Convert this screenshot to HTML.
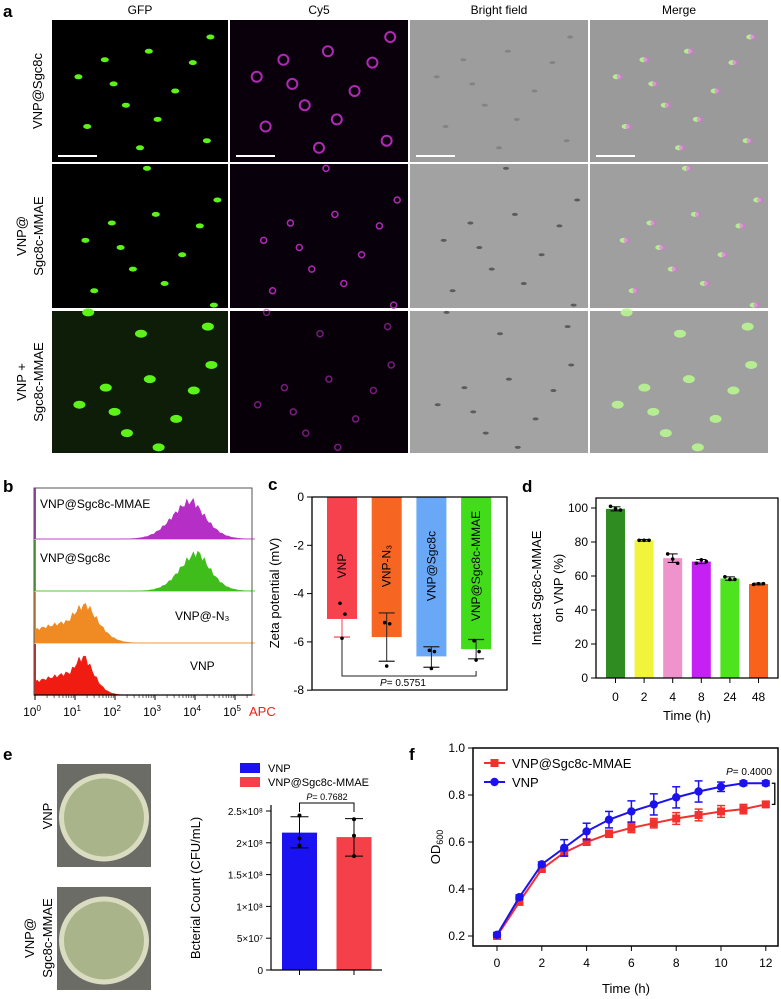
<!DOCTYPE html>
<html><head><meta charset="utf-8"><style>
html,body{margin:0;padding:0;background:#fff;}
svg{display:block;font-family:"Liberation Sans",Arial,sans-serif;}
</style></head><body>
<svg id="fig" width="781" height="999" viewBox="0 0 781 999" xmlns="http://www.w3.org/2000/svg">
<g id="pa"></g>
<g id="pb"></g>
<g id="pc"></g>
<g id="pd"></g>
<g id="pe"></g>
<g id="pf"></g>
</svg>
<script>
// ---- panel c data ----
const cCats = ["VNP","VNP-N\u2083","VNP@Sgc8c","VNP@Sgc8c-MMAE"];
const cMeans = [-5.05,-5.8,-6.6,-6.3];
const cErrHi = [-5.05,-4.8,-6.2,-5.9];
const cErrLo = [-5.8,-6.8,-7.05,-6.7];
const cPts = [[-4.4,-4.85,-5.85],[-5.2,-5.25,-7.0],[-6.35,-6.4,-7.1],[-5.95,-6.4,-6.75]];
const cTicks = [0,-2,-4,-6,-8];
// ---- panel d data ----
const dCats = ["0","2","4","8","24","48"];
const dMeans = [99.5,81,70.5,68.5,58.5,55.3];
const dErr = [1.2,0.5,2.5,1.2,1.0,0.5];
const dPts = [[101,99.5,98.8],[81,81,81],[73,70,67.5],[67.5,69.5,68.5],[59.5,58,58],[55,55.5,55.5]];
const dTicks = [0,20,40,60,80,100];
// ---- panel e data ----
const eCats = ["VNP","VNP@Sgc8c-MMAE"];
const eMeans = [2.16e8,2.09e8];
const eErrHi = [2.41e8,2.38e8];
const eErrLo = [1.92e8,1.79e8];
const ePts = [[2.43e8,2.07e8,1.96e8],[2.37e8,2.11e8,1.79e8]];
const eTicks = [0,5e7,1e8,1.5e8,2e8,2.5e8];
const eTickLabels = ["0","5×10⁷","1×10⁸","1.5×10⁸","2×10⁸","2.5×10⁸"];
// ---- panel f data ----
const fTimes = [0,1,2,3,4,5,6,7,8,9,10,11,12];
const fRed = [0.20,0.345,0.485,0.555,0.60,0.635,0.66,0.68,0.70,0.715,0.73,0.74,0.76];
const fRedErr = [0.01,0.01,0.01,0.015,0.01,0.015,0.02,0.02,0.025,0.025,0.025,0.02,0.01];
const fBlue = [0.205,0.365,0.505,0.575,0.645,0.695,0.73,0.76,0.79,0.815,0.835,0.85,0.85];
const fBlueErr = [0.01,0.01,0.01,0.035,0.035,0.035,0.045,0.045,0.045,0.045,0.02,0.01,0.01];
const fTicksX = [0,2,4,6,8,10,12];
const fTicksY = [0.2,0.4,0.6,0.8,1.0];

const NS="http://www.w3.org/2000/svg";
function mk(parent,tag,attrs,text){const e=document.createElementNS(NS,tag);for(const k in attrs)e.setAttribute(k,attrs[k]);if(text!==undefined)e.textContent=text;parent.appendChild(e);return e;}

// ================= Panel A =================
const pa=document.getElementById('pa');
let t=mk(pa,'text',{x:3,y:17,'font-size':17,'font-weight':'bold'},'a');


const colX=[52,230,410,590], colW=[176,178,178,178];
const rowY=[20,164,311], rowH=[142,144,142];
const heads=["GFP","Cy5","Bright field","Merge"];
heads.forEach((h,i)=>{const e=mk(pa,'text',{x:colX[i]+colW[i]/2,y:14,'font-size':12,'text-anchor':'middle'},h);

});
const rowLabels=[["VNP@Sgc8c"],["VNP@","Sgc8c-MMAE"],["VNP +","Sgc8c-MMAE"]];
rowLabels.forEach((ls,r)=>{const cy=rowY[r]+rowH[r]/2;ls.forEach((l,j)=>{const x=ls.length===1?42:26+j*17;
const e=mk(pa,'text',{x:x,y:cy,'font-size':13,'text-anchor':'middle',transform:`rotate(-90 ${x} ${cy})`},l);

});});
const bg=[["#000","#0a000c","#9d9d9d","#9a9a9a"],["#000","#08000a","#a2a2a2","#9f9f9f"],["#0d1d08","#070009","#a3a3a3","#a0a0a0"]];
const blobs=[[0.3,0.28],[0.55,0.22],[0.8,0.3],[0.7,0.5],[0.42,0.6],[0.2,0.75],[0.88,0.85],[0.6,0.7],[0.15,0.4],[0.5,0.9],[0.35,0.45],[0.9,0.12]];
for(let r=0;r<3;r++)for(let c=0;c<4;c++){
 const g=mk(pa,'g',{});
 
 
 mk(g,'rect',{x:colX[c],y:rowY[r],width:colW[c],height:rowH[r],fill:bg[r][c]});
 blobs.forEach((b,i)=>{const cx=colX[c]+b[0]*colW[c]+r*7%13, cy=rowY[r]+((b[1]+r*0.13)%1)*rowH[r];
  if(c===0||c===3){mk(g,'ellipse',{cx,cy,rx:r===2?6:4,ry:r===2?4:2.5,fill:c===0?"#5cf21a":"#b8f590",opacity:c===3?0.9:1});}
  if(c===1){mk(g,'circle',{cx,cy,r:r===0?5:3,fill:'none',stroke:'#c22ec8','stroke-width':r===0?2:1.5,opacity:r===2?0.6:0.9});}
  if(c===2){mk(g,'ellipse',{cx,cy,rx:3,ry:1.5,fill:'#4a4a4a',opacity:r===0?0.3:0.8});}
  if(c===3&&r<2){mk(g,'circle',{cx:cx+3,cy,r:3,fill:'#e46ae8',opacity:0.6});}
 });
 if(r===0){mk(g,'line',{x1:colX[c]+6,x2:colX[c]+45,y1:rowY[r]+136,y2:rowY[r]+136,stroke:'#fff','stroke-width':2});}
}

// ================= Panel B =================
const pb=document.getElementById('pb');
t=mk(pb,'text',{x:3,y:492,'font-size':17,'font-weight':'bold'},'b');


const bx=v=>35+v*40;
const hist=[{n:"VNP@Sgc8c-MMAE",c:"#b52ec6",p:3.95,w:0.5,tx:40,ty:508,y0:488},{n:"VNP@Sgc8c",c:"#3fbe1b",p:4.1,w:0.45,tx:40,ty:562,y0:540},{n:"VNP@-N₃",c:"#f08a22",p:1.3,w:0.45,tx:175,ty:620,y0:592},{n:"VNP",c:"#f01c12",p:1.25,w:0.35,tx:190,ty:670,y0:644}];
hist.forEach((h,i)=>{const base=h.y0+51;const g=mk(pb,'g',{});
 
 
 let d=`M${bx(0)} ${base}`;
 for(let k=0;k<=100;k++){const lx=k*5.5/100;const z=(lx-h.p)/h.w;let v=Math.exp(-z*z/2)*(z<0?1:Math.exp(-z*0.6));if(h.p<2&&lx<h.p)v=Math.max(v,0.35+0.35*lx/h.p);v*=(0.9+0.1*Math.sin(k*2.3));d+=` L${bx(lx).toFixed(1)} ${(base-v*42).toFixed(1)}`;}
 d+=` L${bx(5.5)} ${base} Z`;
 mk(g,'path',{d,fill:h.c,stroke:h.c,'stroke-width':0.5});
 mk(g,'line',{x1:34,x2:252,y1:base,y2:base,stroke:h.c,'stroke-width':1,opacity:0.5});
 mk(g,'rect',{x:34,y:h.y0,width:2,height:51,fill:h.c});
 const e=mk(pb,'text',{x:h.tx,y:h.ty,'font-size':12},h.n);
 
 });
mk(pb,'rect',{x:34,y:488,width:218,height:207,fill:'none',stroke:'#555','stroke-width':1});
mk(pb,'line',{x1:34,x2:252,y1:695,y2:695,stroke:'#000','stroke-width':1.2});
for(let k=0;k<=5;k++){mk(pb,'line',{x1:bx(k),x2:bx(k),y1:695,y2:700,stroke:'#000'});
 for(let m=2;m<10;m++){const xx=bx(k+Math.log10(m));if(xx<252)mk(pb,'line',{x1:xx,x2:xx,y1:695,y2:698,stroke:'#000','stroke-width':0.6});}
 const e=mk(pb,'text',{x:bx(k)-3,y:716,'font-size':12,'text-anchor':'middle'},'10');
 mk(e,'tspan',{dy:-5,'font-size':8},String(k));
 
 }
t=mk(pb,'text',{x:249,y:716,'font-size':13,fill:'#e8231c'},'APC');



// ================= Panel C =================
const pc=document.getElementById('pc');
t=mk(pc,'text',{x:268,y:490,'font-size':17,'font-weight':'bold'},'c');


const yC=v=>497+(-v)*24.15;
const xC=i=>342+i*44.7;
const cCol=["#f5424d","#f66622","#69a8f7","#43dc1b"];
cMeans.forEach((m,i)=>{const r=mk(pc,'rect',{x:xC(i)-15,y:yC(0),width:30,height:yC(m)-yC(0),fill:cCol[i]});
 
 
 const e=mk(pc,'text',{x:xC(i)+4,y:566,'font-size':12,'text-anchor':'middle',transform:`rotate(-90 ${xC(i)+4} 566)`},cCats[i]);
 
 
 const ec=i===0?'#f5424d':'#222';
 mk(pc,'line',{x1:xC(i),x2:xC(i),y1:yC(cErrHi[i]),y2:yC(cErrLo[i]),stroke:ec,'stroke-width':1});
 mk(pc,'line',{x1:xC(i)-8,x2:xC(i)+8,y1:yC(cErrLo[i]),y2:yC(cErrLo[i]),stroke:ec,'stroke-width':1.2});
 if(i>0)mk(pc,'line',{x1:xC(i)-8,x2:xC(i)+8,y1:yC(cErrHi[i]),y2:yC(cErrHi[i]),stroke:ec,'stroke-width':1.2});
 cPts[i].forEach((p,j)=>mk(pc,'circle',{cx:xC(i)+[-2,3,0][j],cy:yC(p),r:1.8,fill:'#000'}));});
mk(pc,'path',{d:`M312 ${yC(0)} H507 V690 H312 Z`,fill:'none',stroke:'#000','stroke-width':1.3});
cTicks.forEach(v=>{mk(pc,'line',{x1:307,x2:312,y1:yC(v),y2:yC(v),stroke:'#000'});
 const e=mk(pc,'text',{x:304,y:yC(v)+4,'font-size':12,'text-anchor':'end'},v===0?'0':'-'+(-v));
 
 });
t=mk(pc,'text',{x:279,y:593,'font-size':13,'text-anchor':'middle',transform:'rotate(-90 279 593)'},'Zeta potential (mV)');


mk(pc,'path',{d:`M${xC(0)} ${yC(-5.9)} V676 H${xC(3)} V671`,fill:'none',stroke:'#222','stroke-width':1});
t=mk(pc,'text',{x:403,y:686,'font-size':10,'text-anchor':'middle'});
mk(t,'tspan',{'font-style':'italic'},'P');mk(t,'tspan',{},'= 0.5751');



// ================= Panel D =================
const pd=document.getElementById('pd');
t=mk(pd,'text',{x:522,y:492,'font-size':17,'font-weight':'bold'},'d');


const yD=v=>678-v*1.7;
const xD=i=>615.5+i*28.6;
const dCol=["#2f8c21","#f1f43b","#ef93cd","#c521f4","#4ee31f","#f8621b"];
dMeans.forEach((m,i)=>{const r=mk(pd,'rect',{x:xD(i)-9.5,y:yD(m),width:19,height:yD(0)-yD(m),fill:dCol[i]});
 
 
 mk(pd,'line',{x1:xD(i),x2:xD(i),y1:yD(m+dErr[i]),y2:yD(m-dErr[i]),stroke:'#000'});
 mk(pd,'line',{x1:xD(i)-5,x2:xD(i)+5,y1:yD(m+dErr[i]),y2:yD(m+dErr[i]),stroke:'#000'});
 mk(pd,'line',{x1:xD(i)-5,x2:xD(i)+5,y1:yD(m-dErr[i]),y2:yD(m-dErr[i]),stroke:'#000'});
 dPts[i].forEach((p,j)=>mk(pd,'circle',{cx:xD(i)+(j-1)*5,cy:yD(p),r:1.8,fill:'#000'}));
 mk(pd,'line',{x1:xD(i),x2:xD(i),y1:678,y2:683,stroke:'#000'});
 const e=mk(pd,'text',{x:xD(i),y:701,'font-size':12,'text-anchor':'middle'},dCats[i]);
 
 });
mk(pd,'path',{d:'M596 498 H778 V678 H596 Z',fill:'none',stroke:'#000','stroke-width':1.3});
dTicks.forEach(v=>{mk(pd,'line',{x1:591,x2:596,y1:yD(v),y2:yD(v),stroke:'#000'});
 const e=mk(pd,'text',{x:588,y:yD(v)+4,'font-size':12,'text-anchor':'end'},String(v));
 
 });
t=mk(pd,'text',{x:687,y:720,'font-size':13,'text-anchor':'middle'},'Time (h)');


t=mk(pd,'text',{x:541,y:588,'font-size':13,'text-anchor':'middle',transform:'rotate(-90 541 588)'},'Intact Sgc8c-MMAE');


t=mk(pd,'text',{x:563,y:588,'font-size':13,'text-anchor':'middle',transform:'rotate(-90 563 588)'},'on VNP (%)');



// ================= Panel E =================
const pe=document.getElementById('pe');
t=mk(pe,'text',{x:3,y:760,'font-size':17,'font-weight':'bold'},'e');


[[764,867,"plate-vnp"],[887,990,"plate-mmae"]].forEach(p=>{const g=mk(pe,'g',{});
 
 
 mk(g,'rect',{x:57,y:p[0],width:94,height:p[1]-p[0],fill:'#6c6c66'});
 const cy=(p[0]+p[1])/2;
 mk(g,'ellipse',{cx:104,cy:cy+2,rx:45,ry:44,fill:'#d9dcc0'});
 mk(g,'ellipse',{cx:104,cy:cy+2,rx:40,ry:39,fill:'#a9b48a'});});
t=mk(pe,'text',{x:52,y:816,'font-size':13,'text-anchor':'middle',transform:'rotate(-90 52 816)'},'VNP');


t=mk(pe,'text',{x:34,y:938,'font-size':13,'text-anchor':'middle',transform:'rotate(-90 34 938)'},'VNP@');


t=mk(pe,'text',{x:52,y:938,'font-size':13,'text-anchor':'middle',transform:'rotate(-90 52 938)'},'Sgc8c-MMAE');


const yE=v=>970-v/1e8*63.6;
const xE=i=>299.5+i*54.5;
const eCol=["#1a12f0","#f5404a"];
eMeans.forEach((m,i)=>{const r=mk(pe,'rect',{x:xE(i)-17.5,y:yE(m),width:35,height:yE(0)-yE(m),fill:eCol[i]});
 
 
 mk(pe,'line',{x1:xE(i),x2:xE(i),y1:yE(eErrHi[i]),y2:yE(eErrLo[i]),stroke:'#000'});
 mk(pe,'line',{x1:xE(i)-9,x2:xE(i)+9,y1:yE(eErrHi[i]),y2:yE(eErrHi[i]),stroke:'#000'});
 mk(pe,'line',{x1:xE(i)-9,x2:xE(i)+9,y1:yE(eErrLo[i]),y2:yE(eErrLo[i]),stroke:'#000'});
 ePts[i].forEach(p=>mk(pe,'circle',{cx:xE(i),cy:yE(p),r:2,fill:'#000'}));
 mk(pe,'line',{x1:xE(i),x2:xE(i),y1:970,y2:975,stroke:'#000'});
 const lg=mk(pe,'rect',{x:240,y:763+i*14,width:20,height:10,fill:eCol[i]});
 
 
 const e=mk(pe,'text',{x:268,y:772+i*14,'font-size':11},eCats[i]);
 
 });
mk(pe,'line',{x1:271,x2:271,y1:805,y2:970,stroke:'#000','stroke-width':1.2});
mk(pe,'line',{x1:271,x2:382,y1:970,y2:970,stroke:'#000','stroke-width':1.2});
eTicks.forEach((v,i)=>{mk(pe,'line',{x1:266,x2:271,y1:yE(v),y2:yE(v),stroke:'#000'});
 const e=mk(pe,'text',{x:263,y:yE(v)+4,'font-size':10,'text-anchor':'end'},eTickLabels[i]);
 
 });
t=mk(pe,'text',{x:200,y:888,'font-size':13,'text-anchor':'middle',transform:'rotate(-90 200 888)'},'Bcterial Count (CFU/mL)');


mk(pe,'path',{d:`M${xE(0)} 812 V803 H${xE(1)} V812`,fill:'none',stroke:'#000'});
t=mk(pe,'text',{x:327,y:800,'font-size':9,'text-anchor':'middle'});
mk(t,'tspan',{'font-style':'italic'},'P');mk(t,'tspan',{},'= 0.7682');



// ================= Panel F =================
const pf=document.getElementById('pf');
t=mk(pf,'text',{x:409,y:760,'font-size':17,'font-weight':'bold'},'f');


const xF=v=>497+v*22.4;
const yF=v=>936-(v-0.2)*235;
mk(pf,'path',{d:'M473 748 H778 V946 H473 Z',fill:'none',stroke:'#000','stroke-width':1.5});
fTicksY.forEach(v=>{mk(pf,'line',{x1:468,x2:473,y1:yF(v),y2:yF(v),stroke:'#000'});
 const e=mk(pf,'text',{x:465,y:yF(v)+4,'font-size':12,'text-anchor':'end'},v.toFixed(1));
 
 });
fTicksX.forEach(v=>{mk(pf,'line',{x1:xF(v),x2:xF(v),y1:946,y2:951,stroke:'#000'});
 const e=mk(pf,'text',{x:xF(v),y:967,'font-size':12,'text-anchor':'middle'},String(v));
 
 });
t=mk(pf,'text',{x:626,y:993,'font-size':13,'text-anchor':'middle'},'Time (h)');


t=mk(pf,'text',{x:440,y:847,'font-size':13,'text-anchor':'middle',transform:'rotate(-90 440 847)'},'OD');
mk(t,'tspan',{'font-size':9,dy:3},'600');


function series(vals,errs,col,sq,name){const g=mk(pf,'g',{});
 
 
 vals.forEach((v,i)=>{const x=xF(fTimes[i]);mk(g,'line',{x1:x,x2:x,y1:yF(v+errs[i]),y2:yF(v-errs[i]),stroke:col,'stroke-width':1.5});
  mk(g,'line',{x1:x-4,x2:x+4,y1:yF(v+errs[i]),y2:yF(v+errs[i]),stroke:col,'stroke-width':1.5});
  mk(g,'line',{x1:x-4,x2:x+4,y1:yF(v-errs[i]),y2:yF(v-errs[i]),stroke:col,'stroke-width':1.5});});
 mk(g,'polyline',{points:vals.map((v,i)=>xF(fTimes[i])+','+yF(v)).join(' '),fill:'none',stroke:col,'stroke-width':2});
 vals.forEach((v,i)=>{const x=xF(fTimes[i]);if(sq)mk(g,'rect',{x:x-4,y:yF(v)-4,width:8,height:8,fill:col});else mk(g,'circle',{cx:x,cy:yF(v),r:4.2,fill:col});});}
series(fRed,fRedErr,'#f2312e',true,'series-vnp-sgc8c-mmae');
series(fBlue,fBlueErr,'#1c12ee',false,'series-vnp');
mk(pf,'path',{d:`M${xF(12)+6} ${yF(0.85)} H${xF(12)+9} V${yF(0.76)} H${xF(12)+6}`,fill:'none',stroke:'#000','stroke-width':1.3});
t=mk(pf,'text',{x:772,y:775,'font-size':10,'text-anchor':'end'});
mk(t,'tspan',{'font-style':'italic'},'P');mk(t,'tspan',{},'= 0.4000');


[['#f2312e',true,'VNP@Sgc8c-MMAE',763],['#1c12ee',false,'VNP',782]].forEach((l,i)=>{
 const g=mk(pf,'g',{});
 
 
 mk(g,'line',{x1:484,x2:505,y1:l[3],y2:l[3],stroke:l[0],'stroke-width':2});
 if(l[1])mk(g,'rect',{x:490.5,y:l[3]-4,width:8,height:8,fill:l[0]});else mk(g,'circle',{cx:494.5,cy:l[3],r:4.2,fill:l[0]});
 mk(g,'text',{x:512,y:l[3]+5,'font-size':13},l[2]);});
</script>
</body></html>
